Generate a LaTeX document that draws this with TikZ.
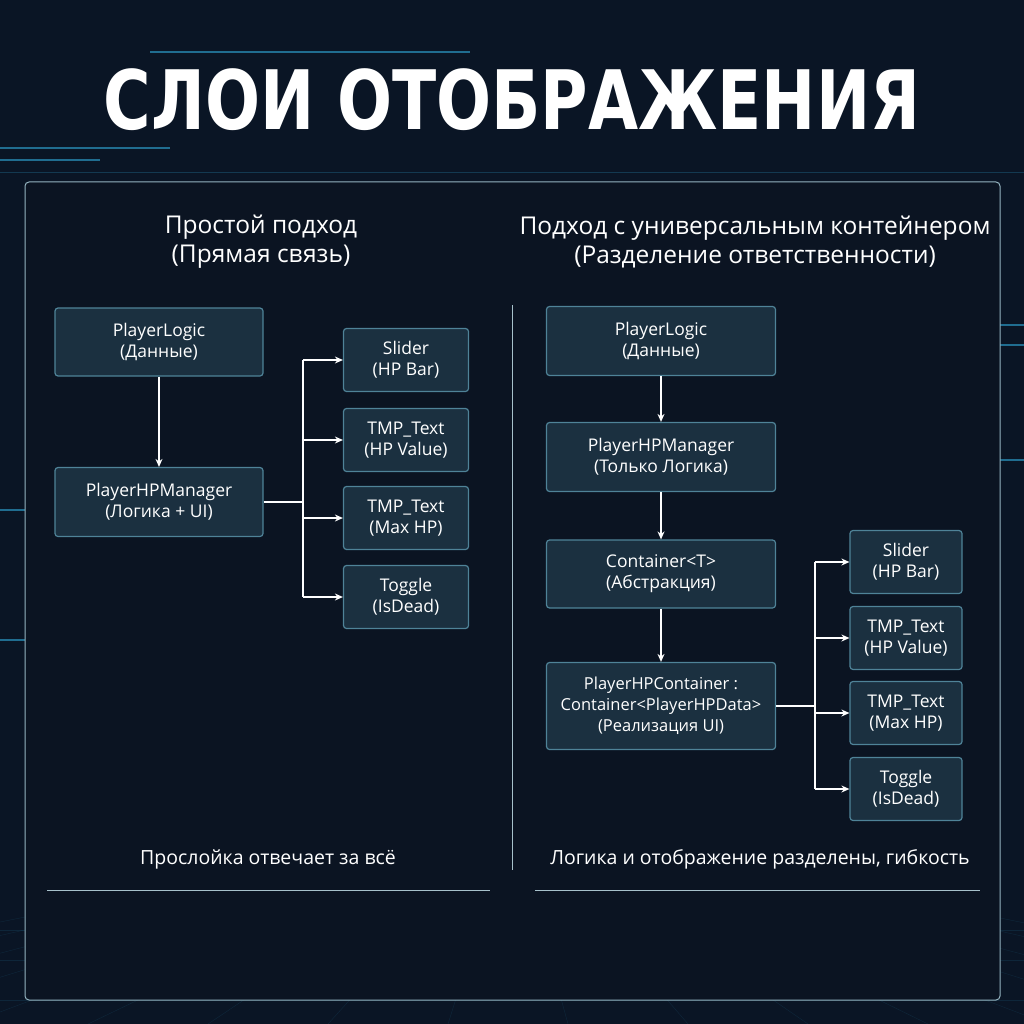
\documentclass[tikz,border=0pt]{standalone}
\usepackage{fontspec}
\usetikzlibrary{arrows.meta}
\setmainfont{Open Sans}
\newfontfamily\ttlfont{DejaVu Sans}
\begin{document}
\begin{tikzpicture}[x=1pt,y=-1pt,
 bx/.style={draw=boxline,fill=boxfill,rounded corners=3pt,line width=1.2pt,text=white,font=\fontsize{17.5}{21}\selectfont,align=center,inner sep=0pt},
 ar/.style={draw=white,line width=1.3pt,-{Stealth[length=8pt,width=7pt]}},
 ln/.style={draw=white,line width=1.3pt},
 hd/.style={text=white,font=\fontsize{24.5}{29}\selectfont,align=center},
 ft/.style={text=white,font=\fontsize{19.5}{22}\selectfont}]
\definecolor{bg}{HTML}{0A1525}
\definecolor{panel}{HTML}{0B1422}
\definecolor{boxfill}{HTML}{1B3040}
\definecolor{boxline}{HTML}{4F8398}
\definecolor{glow}{HTML}{2FA8D8}
\useasboundingbox (0,0) rectangle (1024,1024);
\fill[bg] (0,0) rectangle (1024,1024);
% decorative glow lines
\foreach \y/\a/\b in {52/150/470,148/0/170,160/0/100,325/1000/1024,345/1000/1024,460/1000/1024,510/0/25,640/0/25}
 \draw[glow,opacity=0.6,line width=1.5pt] (\a,\y) -- (\b,\y);
\draw[glow,opacity=0.25,line width=0.8pt] (0,172) -- (1024,172);
\foreach \x in {0,60,...,1024} \draw[glow,opacity=0.12] (512,820) -- ({512+(\x-512)*2},1024);
\foreach \y in {930,960,1000} \draw[glow,opacity=0.12] (0,\y) -- (1024,\y);
% panel
\draw[fill=panel,draw=boxline!60,line width=1pt,rounded corners=4pt] (25,182) rectangle (1000,1000);
% title
\node[text=white,font=\ttlfont\bfseries\fontsize{82}{90}\selectfont,xscale=0.79] (title) at (512,100) {СЛОИ ОТОБРАЖЕНИЯ};
% headers
\node[hd] (hl) at (261,242) {Простой подход\\(Прямая связь)};
\node[hd] (hr) at (755,242) {Подход с универсальным контейнером\\(Разделение ответственности)};
\draw[boxline!50,line width=1pt] (512,305) -- (512,870);
% left
\node[bx,minimum width=208pt,minimum height=68pt] (pl) at (159,342) {PlayerLogic\\(Данные)};
\node[bx,minimum width=208pt,minimum height=69pt] (pm) at (159,502) {PlayerHPManager\\(Логика + UI)};
\node[bx,minimum width=125pt,minimum height=63pt] (s1) at (406,360) {Slider\\(HP Bar)};
\node[bx,minimum width=125pt,minimum height=63pt] (t1) at (406,440) {TMP\_Text\\(HP Value)};
\node[bx,minimum width=125pt,minimum height=63pt] (m1) at (406,518) {TMP\_Text\\(Max HP)};
\node[bx,minimum width=125pt,minimum height=63pt] (g1) at (406,597) {Toggle\\(IsDead)};
\draw[ar] (pl) -- (pm);
\coordinate (b1) at (303,502);
\draw[ln] (pm.east) -- (b1);
\draw[ln] (303,360) -- (303,597);
\foreach \n in {s1,t1,m1,g1} \draw[ar] (303,0 |- \n.west) -- (\n.west);
% right
\node[bx,minimum width=229pt,minimum height=69pt] (rl) at (661,341) {PlayerLogic\\(Данные)};
\node[bx,minimum width=229pt,minimum height=69pt] (rm) at (661,457) {PlayerHPManager\\(Только Логика)};
\node[bx,minimum width=229pt,minimum height=68pt] (rc) at (661,574) {Container<T>\\(Абстракция)};
\node[bx,minimum width=229pt,minimum height=87pt,font=\fontsize{16.5}{21}\selectfont] (rp) at (661,706) {PlayerHPContainer :\\Container<PlayerHPData>\\(Реализация UI)};
\node[bx,minimum width=112pt,minimum height=63pt] (s2) at (906,562) {Slider\\(HP Bar)};
\node[bx,minimum width=112pt,minimum height=63pt] (t2) at (906,638) {TMP\_Text\\(HP Value)};
\node[bx,minimum width=112pt,minimum height=63pt] (m2) at (906,713) {TMP\_Text\\(Max HP)};
\node[bx,minimum width=112pt,minimum height=63pt] (g2) at (906,789) {Toggle\\(IsDead)};
\draw[ar] (rl) -- (rm);
\draw[ar] (rm) -- (rc);
\draw[ar] (rc) -- (rp);
\coordinate (b2) at (815,706);
\draw[ln] (rp.east) -- (b2);
\draw[ln] (815,562) -- (815,789);
\foreach \n in {s2,t2,m2,g2} \draw[ar] (815,0 |- \n.west) -- (\n.west);
% footers
\node[ft] (fl) at (268,859) {Прослойка отвечает за всё};
\node[ft] (fr) at (760,859) {Логика и отображение разделены, гибкость};
\draw[boxline!50,line width=1pt] (47,890) -- (490,890);
\draw[boxline!50,line width=1pt] (535,890) -- (980,890);
\end{tikzpicture}
\end{document}
